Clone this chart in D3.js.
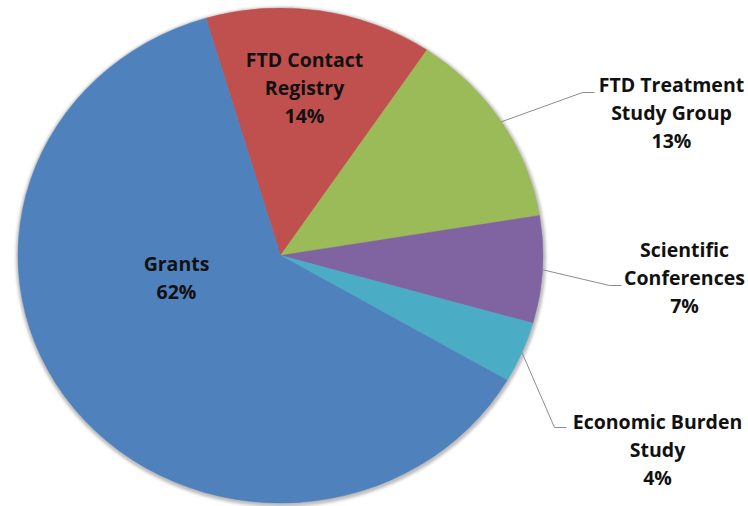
<!DOCTYPE html>
<html>
<head>
<meta charset="utf-8">
<script src="https://cdn.jsdelivr.net/npm/d3@7"></script>
<style>
  body { margin: 0; background: #fff; }
  text { font-family: "Open Sans", sans-serif; font-weight: bold; fill: #111; }
</style>
</head>
<body>
<div id="pie"></div>
<script>
// ----------- Data ----------
var categories = ["FTD Contact Registry", "FTD Treatment Study Group", "Scientific Conferences", "Economic Burden Study", "Grants"];
var labelLines = [["FTD Contact", "Registry"], ["FTD Treatment", "Study Group"], ["Scientific", "Conferences"], ["Economic Burden", "Study"], ["Grants"]];
var shares = [14, 13, 7, 4, 62];
var colors = ["#C0504D", "#9BBB59", "#8064A2", "#4BACC6", "#4F81BD"];

// label placement: centre of the label block, offset from the pie centre (px)
var labelPos = [[24, -167], [391, -142.5], [404, 22.5], [377, 194.5], [-104, 22.5]];
var leaderElbow = [null, [302, -163], [329, 30], [274, 172]];

var width = 748, height = 506;
var cx = 280.5, cy = 255.5;
var radius = 262.5;
var squash = 247.5 / 262.5;   // the original is slightly flattened

var svg = d3.select("#pie")
  .append("svg")
  .attr("width", width)
  .attr("height", height);

var defs = svg.append("defs");
defs.append("filter")
  .attr("id", "blur")
  .attr("x", "-10%").attr("y", "-10%")
  .attr("width", "120%").attr("height", "120%")
  .append("feGaussianBlur")
  .attr("stdDeviation", 1.6);

var pieG = svg.append("g")
  .attr("transform", "translate(" + cx + "," + cy + ") scale(1," + squash + ")");

// soft grey shadow round the pie
pieG.append("circle")
  .attr("cx", 0.5)
  .attr("cy", 1.5)
  .attr("r", radius + 2.5)
  .attr("fill", "#bdbdbd")
  .attr("filter", "url(#blur)");

var pie = d3.pie()
  .sort(null)
  .value(function(d) { return d; })
  .startAngle(-16.5 * Math.PI / 180)
  .endAngle((360 - 16.5) * Math.PI / 180);

var arcs = pie(shares);

var arc = d3.arc().innerRadius(0).outerRadius(radius);

pieG.selectAll("path")
  .data(arcs)
  .enter().append("path")
  .attr("d", arc)
  .attr("fill", function(d, i) { return colors[i]; })
  .attr("stroke", function(d, i) { return colors[i]; })
  .attr("stroke-width", 0.5);

// ----------- Leader lines ----------
var labelG = svg.append("g").attr("transform", "translate(" + cx + "," + cy + ")");

arcs.forEach(function(d, i) {
  if (!leaderElbow[i]) return;
  var mid = (d.startAngle + d.endAngle) / 2;
  var sx = Math.sin(mid) * radius;
  var sy = -Math.cos(mid) * radius * squash;
  var e = leaderElbow[i];
  labelG.append("path")
    .attr("d", "M" + sx + "," + sy + "L" + e[0] + "," + e[1] + "h12")
    .attr("fill", "none")
    .attr("stroke", "#8c8c8c")
    .attr("stroke-width", 1);
});

// ----------- Labels ----------
var lineH = 28;
arcs.forEach(function(d, i) {
  var lines = labelLines[i].concat([shares[i] + "%"]);
  var p = labelPos[i];
  var first = p[1] - (lines.length - 1) * lineH / 2;
  var t = labelG.append("text")
    .attr("text-anchor", "middle")
    .style("font-size", "19.5px");
  lines.forEach(function(s, k) {
    t.append("tspan")
      .attr("x", p[0])
      .attr("y", first + k * lineH)
      .attr("dy", "0.35em")
      .text(s);
  });
});
</script>
</body>
</html>
